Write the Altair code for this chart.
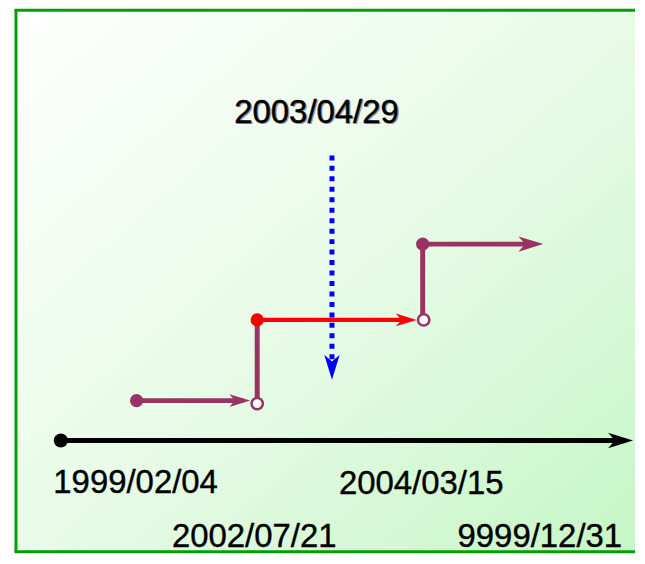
import altair as alt
import pandas as pd

# page-pixel coordinate frame (chart starts at the 8px page margin)
W, H = 629, 546
X0, Y0 = 8, 8

# timeline events (horizontal positions on the diagram) and step levels
dates = ["1999/02/04", "2002/07/21", "2004/03/15", "9999/12/31"]
date_x = [136, 255, 422.5, 541.5]
date_y = [494, 548, 495, 548]
marker_date = "2003/04/29"
marker_x = [317.5]
marker_y = [122]

# line segments: x, y, x2, y2
seg_x = [62, 137, 258, 258, 424, 424]
seg_y = [441, 401, 404, 320, 320, 244]
seg_x2 = [628, 244, 258, 410, 424, 535]
seg_y2 = [441, 401, 321, 320, 244, 244]
seg_color = ["#000000", "#993366", "#993366", "#ff0000", "#993366", "#993366"]
seg_width = [5, 5, 5, 4.5, 5, 5]

# dotted marker arrow
dot_x = [333]
dot_y = [155]
dot_y2 = [362]

# arrow heads: centre x, y, angle, size
head_x = [622.5, 240.5, 407.5, 532.5, 333]
head_y = [441, 401, 320, 244, 367.5]
head_angle = [0, 0, 0, 0, 90]
head_size = [625, 441, 441, 625, 625]
head_color = ["#000000", "#993366", "#ff0000", "#993366", "#0000ff"]

# filled dots
fdot_x = [61, 137, 258, 424]
fdot_y = [441, 401, 320, 244]
fdot_size = [201, 177, 177, 177]
fdot_color = ["#000000", "#993366", "#ff0000", "#993366"]

# hollow dots
hdot_x = [258, 425]
hdot_y = [404, 320]

# frame (left, top, right, bottom)
FL, FT, FR, FB = 16, 9.5, X0 + W, Y0 + H - 1.5

xs = alt.Scale(domain=[X0, X0 + W], nice=False, zero=False)
ys = alt.Scale(domain=[Y0, Y0 + H], nice=False, zero=False, reverse=True)

def X(f):
    return alt.X(f, type="quantitative", scale=xs, axis=None)

def Y(f):
    return alt.Y(f, type="quantitative", scale=ys, axis=None)

bg = pd.DataFrame({"x": [FL], "x2": [FR], "y": [FT], "y2": [FB]})
background = alt.Chart(bg).mark_rect(
    fill=alt.LinearGradient(
        gradient="linear",
        stops=[alt.GradientStop(color="#ffffff", offset=0),
               alt.GradientStop(color="#e8fbe8", offset=0.5),
               alt.GradientStop(color="#c6f6c6", offset=1)],
        x1=0, y1=0, x2=1, y2=1),
    strokeWidth=0,
).encode(x=X("x"), x2="x2", y=Y("y"), y2="y2")

fr = pd.DataFrame({"x": [FL - 1.5, FL, FL - 1.5],
                   "x2": [FR, FL, FR],
                   "y": [FT, FT, FB],
                   "y2": [FT, FB, FB]})
frame = alt.Chart(fr).mark_rule(color="#00a000", strokeWidth=3,
                                strokeCap="butt").encode(
    x=X("x"), x2="x2", y=Y("y"), y2="y2")

segs = pd.DataFrame({"x": seg_x, "y": seg_y, "x2": seg_x2, "y2": seg_y2,
                     "c": seg_color, "w": seg_width})
lines = alt.Chart(segs).mark_rule(strokeCap="butt").encode(
    x=X("x"), y=Y("y"), x2="x2", y2="y2",
    color=alt.Color("c:N", scale=None),
    strokeWidth=alt.StrokeWidth("w:Q", scale=None),
)

dd = pd.DataFrame({"x": dot_x, "y": dot_y, "y2": dot_y2})
dotted = alt.Chart(dd).mark_rule(color="#0000ff", strokeWidth=5,
                                 strokeDash=[5, 5.5], strokeCap="butt").encode(
    x=X("x"), y=Y("y"), y2="y2")

ARROW = "M1,0 L-1,-0.62 L-0.45,0 L-1,0.62 Z"
hd = pd.DataFrame({"x": head_x, "y": head_y, "a": head_angle,
                   "s": head_size, "c": head_color})
heads = alt.Chart(hd).mark_point(shape=ARROW, filled=True, opacity=1,
                                 strokeWidth=0).encode(
    x=X("x"), y=Y("y"),
    angle=alt.Angle("a:Q", scale=None),
    size=alt.Size("s:Q", scale=None),
    color=alt.Color("c:N", scale=None),
)

fd = pd.DataFrame({"x": fdot_x, "y": fdot_y, "s": fdot_size, "c": fdot_color})
fdots = alt.Chart(fd).mark_circle(opacity=1).encode(
    x=X("x"), y=Y("y"),
    size=alt.Size("s:Q", scale=None),
    color=alt.Color("c:N", scale=None),
)

hdd = pd.DataFrame({"x": hdot_x, "y": hdot_y})
hdots = alt.Chart(hdd).mark_point(shape="circle", size=130, fill="#ffffff",
                                  filled=False, stroke="#993366",
                                  strokeWidth=2.5, opacity=1, fillOpacity=1).encode(
    x=X("x"), y=Y("y"))

TXT = dict(font="Liberation Sans", fontSize=33, align="center",
           baseline="alphabetic")

lab = pd.DataFrame({"x": date_x, "y": date_y, "t": dates})
labels = alt.Chart(lab).mark_text(color="#000000", stroke="#000000",
                                  strokeWidth=0.4, **TXT).encode(
    x=X("x"), y=Y("y"), text="t:N")

ml = pd.DataFrame({"x": marker_x, "y": marker_y, "t": [marker_date]})
shadow = alt.Chart(ml).mark_text(color="#9a9a9a", dx=1.5, dy=1.5, **TXT).encode(
    x=X("x"), y=Y("y"), text="t:N")
marker = alt.Chart(ml).mark_text(color="#000000", stroke="#000000",
                                 strokeWidth=0.4, **TXT).encode(
    x=X("x"), y=Y("y"), text="t:N")

chart = alt.layer(background, frame, lines, dotted, heads, hdots, fdots,
                  labels, shadow, marker).properties(
    width=W, height=H, padding=0,
).configure_view(strokeWidth=0)

chart.save("out.html", embed_options={"renderer": "svg", "actions": False})
